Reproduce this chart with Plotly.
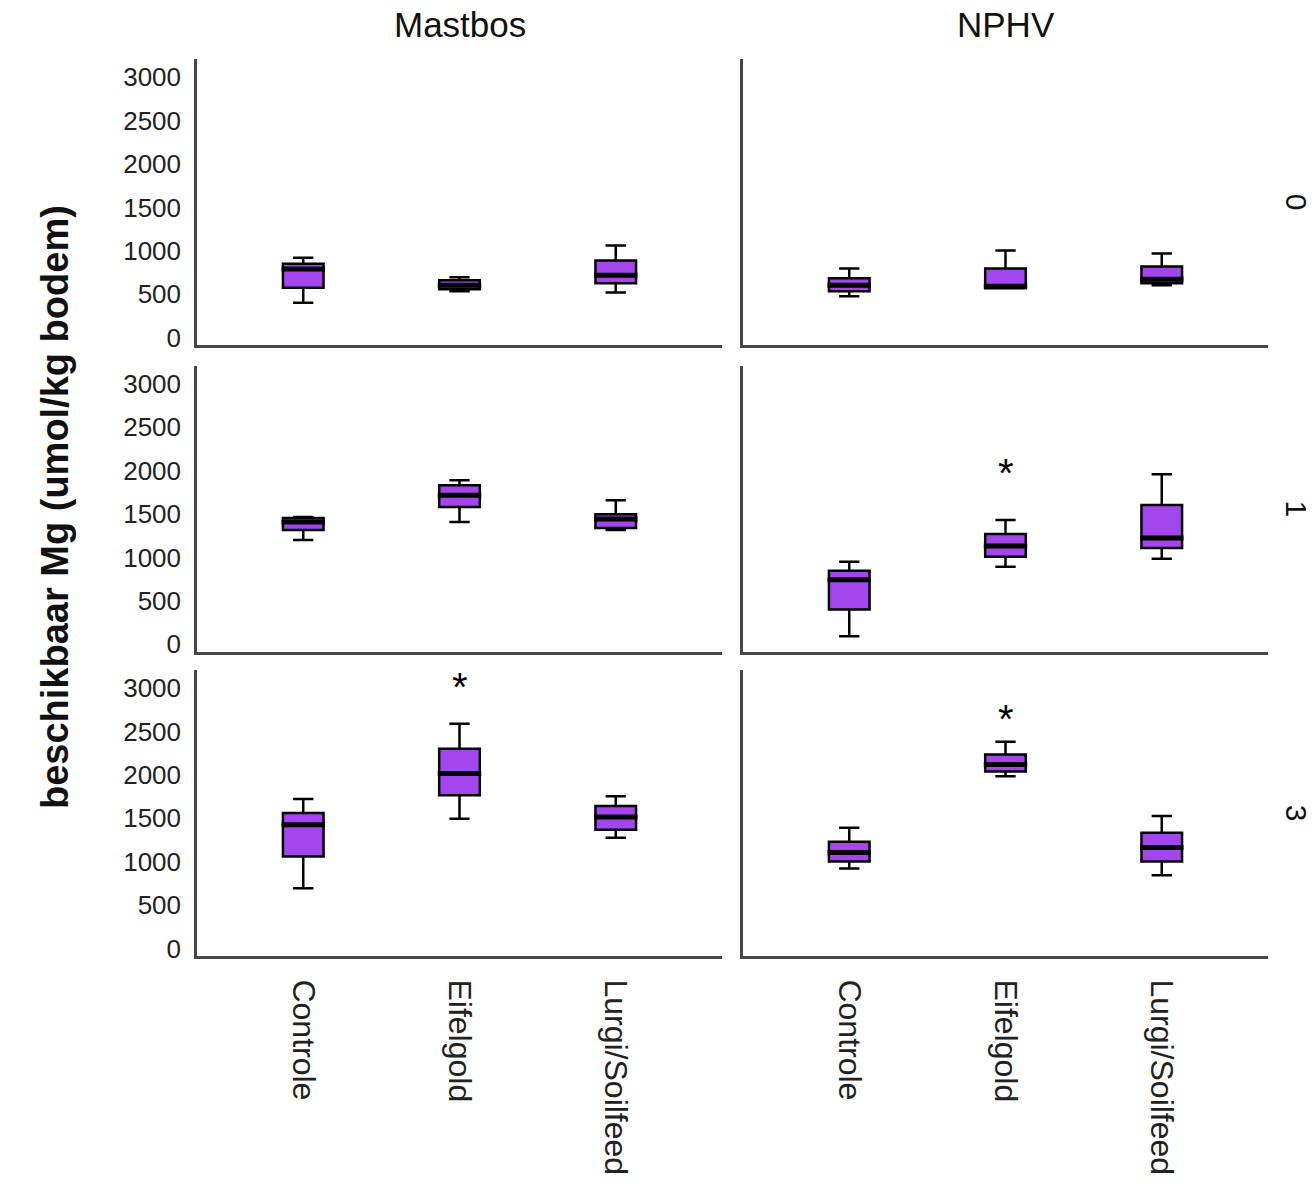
import plotly.graph_objects as go

W, H = 1316, 1204

categories = ["Controle", "Eifelgold", "Lurgi/Soilfeed"]
columns = ["Mastbos", "NPHV"]
rows = ["0", "1", "3"]
yticks = [0, 500, 1000, 1500, 2000, 2500, 3000]

# Box statistics per (row, column): lower whisker, q1, median, q3, upper whisker
mastbos_0_lower = [400, 535, 520]
mastbos_0_q1 = [575, 557, 625]
mastbos_0_med = [790, 602, 717]
mastbos_0_q3 = [850, 660, 889]
mastbos_0_upper = [920, 694, 1060]

nphv_0_lower = [476, 568, 602]
nphv_0_q1 = [533, 568, 625]
nphv_0_med = [602, 591, 671]
nphv_0_q3 = [683, 797, 820]
nphv_0_upper = [797, 1004, 969]

mastbos_1_lower = [1203, 1409, 1317]
mastbos_1_q1 = [1317, 1581, 1340]
mastbos_1_med = [1409, 1718, 1443]
mastbos_1_q3 = [1455, 1833, 1500]
mastbos_1_upper = [1466, 1890, 1661]

nphv_1_lower = [92, 893, 985]
nphv_1_q1 = [400, 1008, 1111]
nphv_1_med = [745, 1134, 1226]
nphv_1_q3 = [848, 1271, 1604]
nphv_1_upper = [950, 1432, 1960]

mastbos_3_lower = [695, 1494, 1277]
mastbos_3_q1 = [1060, 1767, 1368]
mastbos_3_med = [1425, 2018, 1516]
mastbos_3_q3 = [1562, 2303, 1642]
mastbos_3_upper = [1722, 2589, 1756]

nphv_3_lower = [923, 1984, 844]
nphv_3_q1 = [1003, 2041, 1003]
nphv_3_med = [1106, 2121, 1163]
nphv_3_q3 = [1231, 2235, 1334]
nphv_3_upper = [1391, 2383, 1528]

# Extreme values (asterisks)
extreme_nphv_1 = {"x": ["Eifelgold"], "y": [2090]}
extreme_mastbos_3 = {"x": ["Eifelgold"], "y": [3124]}
extreme_nphv_3 = {"x": ["Eifelgold"], "y": [2759]}

panels = {
    (0, 0): (mastbos_0_lower, mastbos_0_q1, mastbos_0_med, mastbos_0_q3, mastbos_0_upper, None),
    (0, 1): (nphv_0_lower, nphv_0_q1, nphv_0_med, nphv_0_q3, nphv_0_upper, None),
    (1, 0): (mastbos_1_lower, mastbos_1_q1, mastbos_1_med, mastbos_1_q3, mastbos_1_upper, None),
    (1, 1): (nphv_1_lower, nphv_1_q1, nphv_1_med, nphv_1_q3, nphv_1_upper, extreme_nphv_1),
    (2, 0): (mastbos_3_lower, mastbos_3_q1, mastbos_3_med, mastbos_3_q3, mastbos_3_upper, extreme_mastbos_3),
    (2, 1): (nphv_3_lower, nphv_3_q1, nphv_3_med, nphv_3_q3, nphv_3_upper, extreme_nphv_3),
}

FILL = "#A346EE"
AXIS = "#474747"
col_px = [(197, 722), (743, 1268)]
row_px = [(59.4, 347.4), (367.9, 655.9), (673.9, 961.9)]

fig = go.Figure()
layout = {}
annotations = []
for (r, c), (lo, q1, med, q3, up, ext) in panels.items():
    i = r * 2 + c + 1
    xa = "x" if i == 1 else f"x{i}"
    ya = "y" if i == 1 else f"y{i}"
    fig.add_trace(go.Box(
        x=categories, lowerfence=lo, q1=q1, median=med, q3=q3, upperfence=up,
        xaxis=xa, yaxis=ya, fillcolor=FILL, line=dict(color="black", width=2.5),
        width=0.26, whiskerwidth=0.5, boxpoints=False, showlegend=False,
        hoverinfo="skip"))
    fig.add_trace(go.Scatter(
        x=categories, y=med, xaxis=xa, yaxis=ya, mode="markers",
        marker=dict(symbol="line-ew", size=31, line=dict(color="black", width=5)),
        showlegend=False, hoverinfo="skip", cliponaxis=False))
    if ext:
        for ex, ey in zip(ext["x"], ext["y"]):
            annotations.append(dict(
                text="*", x=categories.index(ex), y=ey, xref=xa, yref=ya,
                showarrow=False, xanchor="center", yanchor="middle", yshift=-10,
                font=dict(family="Liberation Sans", size=40, color="black")))
    x0, x1 = col_px[c]
    t, b = row_px[r]
    layout["xaxis" if i == 1 else f"xaxis{i}"] = dict(
        domain=[x0 / W, x1 / W], anchor=ya, type="category",
        categoryorder="array", categoryarray=categories, range=[-0.68, 2.68],
        showline=True, linecolor=AXIS, linewidth=2.5, ticks="", showgrid=False,
        zeroline=False, showticklabels=(r == 2), tickangle=90,
        ticklabelstandoff=14,
        tickfont=dict(family="Liberation Sans", size=32, color="#222"))
    layout["yaxis" if i == 1 else f"yaxis{i}"] = dict(
        domain=[1 - b / H, 1 - t / H], anchor=xa, range=[-90, 3210],
        tickvals=yticks, showline=True, linecolor=AXIS, linewidth=2.5,
        ticks="", showgrid=False, zeroline=False, showticklabels=(c == 0),
        ticklabelstandoff=8,
        tickfont=dict(family="Liberation Sans", size=26, color="#222"))

for c, name in enumerate(columns):
    x0, x1 = col_px[c]
    annotations.append(dict(text=name, x=(x0 + x1) / 2 / W, y=1 - 25 / H,
                            xref="paper", yref="paper", showarrow=False,
                            xanchor="center", yanchor="middle",
                            font=dict(family="Liberation Sans", size=35, color="#111")))
for r, name in enumerate(rows):
    t, b = row_px[r]
    annotations.append(dict(text=name, x=1 - 1 / W, y=1 - (t + b) / 2 / H,
                            xref="paper", yref="paper", showarrow=False,
                            xanchor="right", yanchor="middle", textangle=90,
                            font=dict(family="Liberation Sans", size=30, color="#111")))
annotations.append(dict(text="<b>beschikbaar Mg (umol/kg bodem)</b>",
                        x=55 / W, y=1 - 510 / H, xref="paper", yref="paper",
                        showarrow=False, xanchor="center", yanchor="middle",
                        textangle=-90,
                        font=dict(family="Liberation Sans", size=38, color="#111")))

fig.update_layout(width=W, height=H, margin=dict(l=0, r=0, t=0, b=0),
                  paper_bgcolor="white", plot_bgcolor="white",
                  annotations=annotations, **layout)
fig.write_html("out.html")
